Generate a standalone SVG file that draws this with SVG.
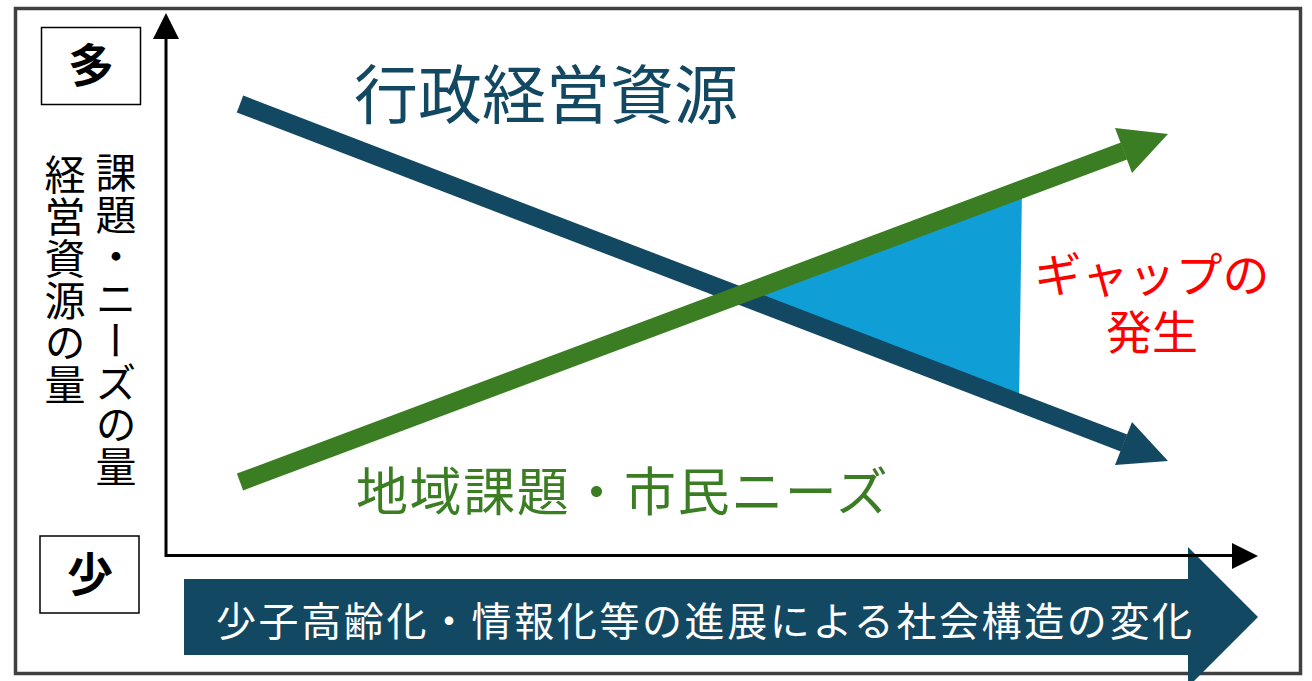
<svg xmlns="http://www.w3.org/2000/svg" width="1312" height="681" viewBox="0 0 1312 681">
<style>
text{font-family:"Noto Sans CJK JP","Noto Sans CJK SC",sans-serif}
.lbl{fill:#000;font-size:41px}
.vert{writing-mode:vertical-rl;letter-spacing:1px}
.box{fill:#fff;stroke:#000;stroke-width:1.5}
.ax{stroke:#000;stroke-width:3;fill:none}
</style>
<rect width="1312" height="681" fill="#fff"/>
<rect x="15.5" y="8.5" width="1285" height="665" fill="#fff" stroke="#404040" stroke-width="3.5"/>
<g id="gap">
<polygon points="736,295 1022,188 1019,405" fill="#0F9ED5"/>
</g>
<g id="connectors">
<g id="resource-line">
<line x1="240" y1="104" x2="1124" y2="443" stroke="#124862" stroke-width="18"/>
<polygon points="1168,461 1132,422 1115,465" fill="#124862"/>
</g>
<g id="needs-line">
<line x1="240" y1="482" x2="1124" y2="151" stroke="#3B7D23" stroke-width="18"/>
<polygon points="1168,134 1115,128 1132,173" fill="#3B7D23"/>
</g>
</g>
<g id="trend-arrow">
<polygon points="184,579 1188,579 1188,547 1258,617 1188,687 1188,655 184,655" fill="#124862"/>
<text x="216" y="636" font-size="40" fill="#fff" textLength="976" lengthAdjust="spacing">少子高齢化・情報化等の進展による社会構造の変化</text>
</g>
<g id="axes">
<polyline class="ax" points="166,38 166,555.5 1233,555.5"/>
<polygon points="166,13 153,39 179,39" fill="#000"/>
<polygon points="1258,556 1232,543 1232,569" fill="#000"/>
</g>
<g id="many">
<rect class="box" x="41.5" y="27.5" width="99" height="77"/>
<text x="91" y="82" font-size="46" font-weight="700" text-anchor="middle">多</text>
</g>
<g id="few">
<rect class="box" x="40" y="536" width="99" height="77"/>
<text x="90" y="591" font-size="46" font-weight="700" text-anchor="middle">少</text>
</g>
<g id="y-label">
<text class="lbl vert" x="116" y="152">課題・ニーズの量</text>
<text class="lbl vert" x="65" y="154">経営資源の量</text>
</g>
<g id="resource-label">
<text x="354" y="118" font-size="64" fill="#124862">行政経営資源</text>
</g>
<g id="needs-label">
<text x="356" y="511" font-size="52" fill="#3B7D23" letter-spacing="1.6">地域課題・市民ニーズ</text>
</g>
<g id="gap-label">
<text x="1152" y="292" font-size="47" fill="#FF0000" text-anchor="middle">ギャップの</text>
<text x="1152" y="349" font-size="46" fill="#FF0000" text-anchor="middle">発生</text>
</g>
</svg>
